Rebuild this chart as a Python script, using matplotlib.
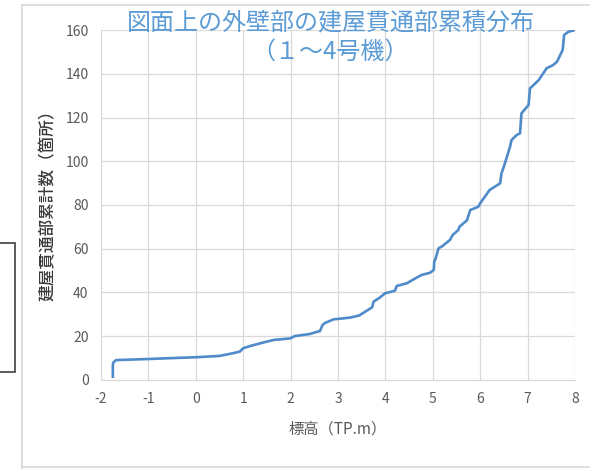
import numpy as np
import matplotlib.pyplot as plt
from matplotlib.patches import Rectangle
from matplotlib.lines import Line2D

plt.rcParams['font.family'] = ['Noto Sans CJK JP', 'DejaVu Sans']
plt.rcParams['axes.unicode_minus'] = False

# 標高 (TP.m) と累積箇所数
elev = [-1.75, -1.75, -1.74, -1.68, -1.0, 0.0, 0.5, 0.8, 0.93, 1.0, 1.14, 1.4,
        1.64, 1.99, 2.09, 2.4, 2.62, 2.67, 2.72, 2.9, 3.25, 3.45, 3.57, 3.72,
        3.75, 3.89, 3.99, 4.2, 4.24, 4.45, 4.66, 4.76, 4.94, 5.02, 5.03, 5.06,
        5.12, 5.19, 5.36, 5.42, 5.54, 5.56, 5.72, 5.79, 5.96, 6.0, 6.17, 6.2,
        6.42, 6.45, 6.52, 6.63, 6.66, 6.77, 6.84, 6.87, 7.02, 7.05, 7.23, 7.4,
        7.54, 7.62, 7.74, 7.77, 7.86, 8.0]
count = [1.5, 7, 8, 9.1, 9.6, 10.4, 11, 12.3, 13, 14.5, 15.5, 17,
         18.3, 19, 20.1, 21, 22.4, 25, 26, 27.7, 28.5, 29.5, 31.2, 33.2,
         35.8, 37.8, 39.6, 40.8, 43, 44.2, 46.8, 48, 49, 50.3, 54, 55.6,
         60.2, 61, 64, 66.3, 68.6, 70, 73, 77.7, 79.2, 80.8, 86, 86.9,
         89.9, 94.5, 99, 106.7, 109.7, 112, 112.8, 121.9, 125.7, 133.3, 137, 142.5,
         144, 145.5, 150.9, 157.7, 159.2, 160]

xticks = list(range(-2, 9))
yticks = list(range(0, 161, 20))

fig = plt.figure(figsize=(5.9, 4.69), dpi=100)
ax = fig.add_axes([0.1712, 0.1898, 0.8034, 0.7462])

ax.plot(elev, count, color='#4f8ac9', lw=1.9, solid_joinstyle='round')

ax.set_xlim(-2, 8)
ax.set_ylim(0, 160)
ax.set_xticks(xticks)
ax.set_yticks(yticks)
ax.grid(True, color='#d9d9d9', lw=0.9)
ax.set_axisbelow(True)
for s in ['top', 'right', 'left']:
    ax.spines[s].set_visible(False)
ax.spines['bottom'].set_color('#d9d9d9')
ax.tick_params(length=0, colors='#595959', labelsize=10, pad=9)

ax.set_xlabel('標高（TP.m）', fontsize=11, color='#595959', labelpad=10)
ax.set_ylabel('建屋貫通部累計数（箇所）', fontsize=12, color='#3a3a3a',
              fontweight='medium')
ax.yaxis.set_label_coords(-0.094, 0.51)

fig.text(0.56, 0.951, '図面上の外壁部の建屋貫通部累積分布', ha='center', va='center',
         fontsize=17.3, color='#5b9bd5')
fig.text(0.56, 0.889, '（１～4号機）', ha='center', va='center',
         fontsize=17.3, color='#5b9bd5')

# 外枠と左側の枠の一部
fig.add_artist(Line2D([22/590, 22/590], [0, 1 - 5/469], transform=fig.transFigure,
                      color='#d9d9d9', lw=1.2))
fig.add_artist(Line2D([22/590, 1], [1 - 5/469, 1 - 5/469], transform=fig.transFigure,
                      color='#d9d9d9', lw=1.2))
fig.add_artist(Line2D([22/590, 1], [2/469, 2/469], transform=fig.transFigure,
                      color='#d9d9d9', lw=1.2))
fig.add_artist(Rectangle((-0.01, 1 - 372/469), 15/590 + 0.01, 129/469,
                         transform=fig.transFigure, fill=False,
                         edgecolor='#404040', lw=1.2))

fig.savefig('out.png', dpi=100)
